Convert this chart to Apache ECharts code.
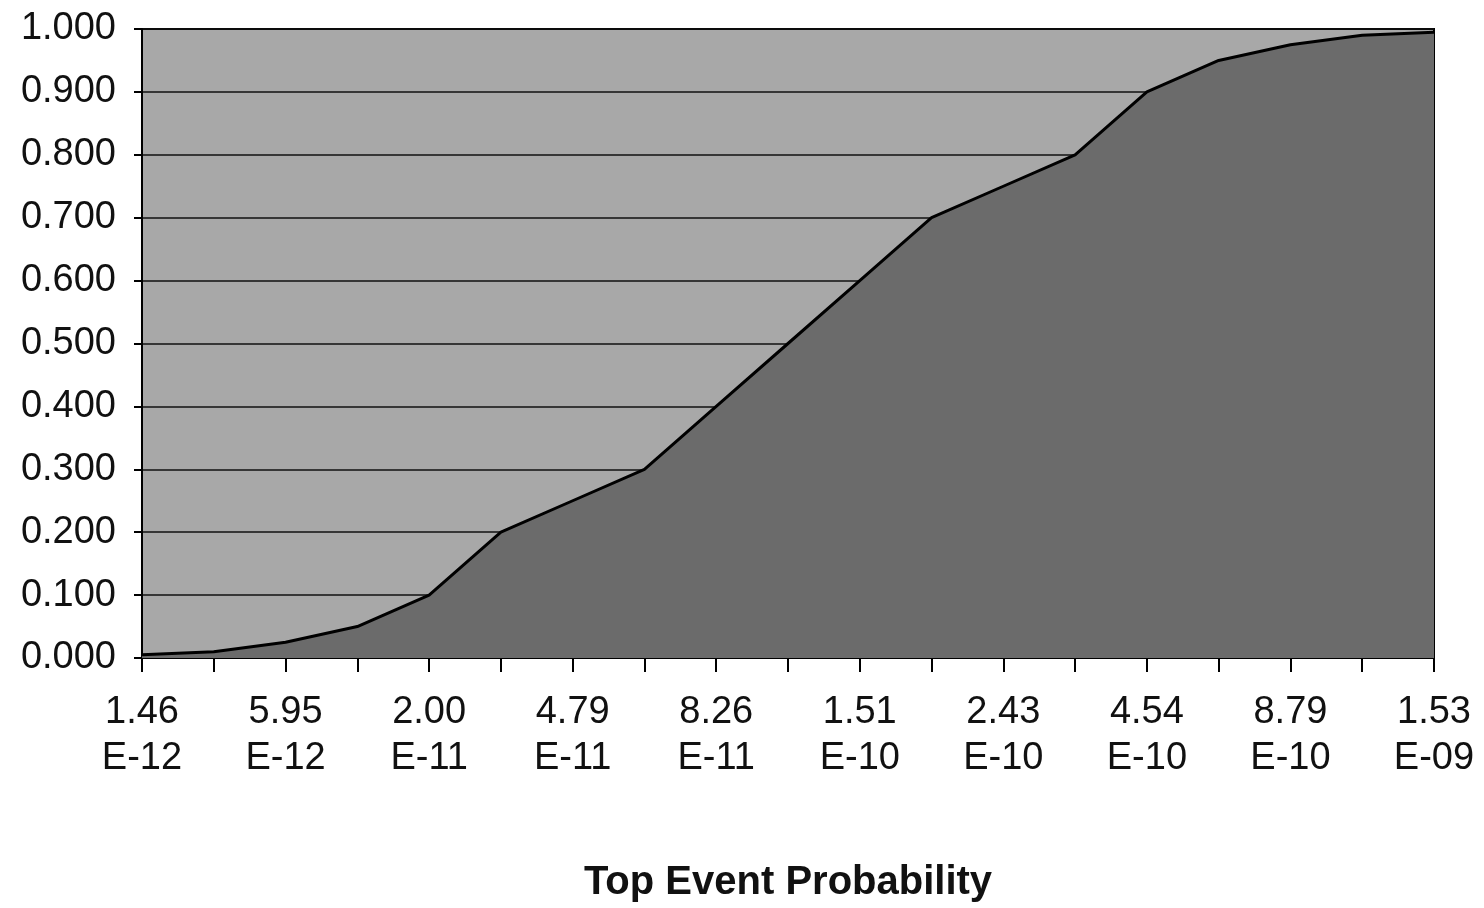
<!DOCTYPE html>
<html>
<head>
<meta charset="utf-8">
<script src="https://cdn.jsdelivr.net/npm/echarts@6/dist/echarts.min.js"></script>
<style>
    html, body {margin: 0; padding: 0; background: #fff;}
    #chart {width: 1484px; height: 908px;}
</style>
</head>
<body>
<div id="chart"></div>
<script>
// percentile points along the x axis
var percentiles = ['0.5%', '1%', '2.5%', '5%', '10%', '20%', '25%', '30%', '40%', '50%',
    '60%', '70%', '75%', '80%', '90%', '95%', '97.5%', '99%', '99.5%'];
// cumulative probability at each point
var cumulative = [0.005, 0.010, 0.025, 0.050, 0.100, 0.200, 0.250, 0.300, 0.400, 0.500,
    0.600, 0.700, 0.750, 0.800, 0.900, 0.950, 0.975, 0.990, 0.995];
// tick labels, shown at every other point
var labelMantissa = ['1.46', '5.95', '2.00', '4.79', '8.26', '1.51', '2.43', '4.54', '8.79', '1.53'];
var labelExponent = ['E-12', 'E-12', 'E-11', 'E-11', 'E-11', 'E-10', 'E-10', 'E-10', 'E-10', 'E-09'];

var font = '"Liberation Sans", Arial, sans-serif';
var chart = echarts.init(document.getElementById('chart'));
chart.setOption({
    animation: false,
    backgroundColor: '#ffffff',
    grid: {
        left: 142,
        right: 50,
        top: 29,
        bottom: 250,
        show: true,
        backgroundColor: '#a8a8a8',
        borderColor: '#000',
        borderWidth: 2
    },
    xAxis: {
        type: 'category',
        data: percentiles,
        boundaryGap: false,
        name: 'Top Event Probability',
        nameLocation: 'middle',
        nameGap: 205,
        nameTextStyle: {fontFamily: font, fontSize: 40, fontWeight: 'bold', color: '#111'},
        axisLine: {lineStyle: {color: '#000', width: 2}},
        axisTick: {show: true, length: 14, interval: 0, lineStyle: {color: '#000', width: 2}},
        axisLabel: {
            interval: 0,
            margin: 32,
            fontFamily: font,
            fontSize: 38,
            lineHeight: 46,
            color: '#111',
            formatter: function (value, index) {
                if (index % 2) {
                    return '';
                }
                return labelMantissa[index / 2] + '\n' + labelExponent[index / 2];
            }
        },
        splitLine: {show: false}
    },
    yAxis: {
        type: 'value',
        min: 0,
        max: 1,
        interval: 0.1,
        axisLine: {show: true, lineStyle: {color: '#000', width: 2}},
        axisTick: {show: true, length: 8, lineStyle: {color: '#000', width: 2}},
        axisLabel: {
            margin: 26,
            fontFamily: font,
            fontSize: 38,
            color: '#111',
            formatter: function (v) {
                return v.toFixed(3);
            }
        },
        splitLine: {show: true, lineStyle: {color: '#111', width: 1.5}}
    },
    series: [{
        type: 'line',
        data: cumulative,
        symbol: 'none',
        lineStyle: {color: '#000', width: 3},
        areaStyle: {color: '#6b6b6b', opacity: 1}
    }]
});
</script>
</body>
</html>
